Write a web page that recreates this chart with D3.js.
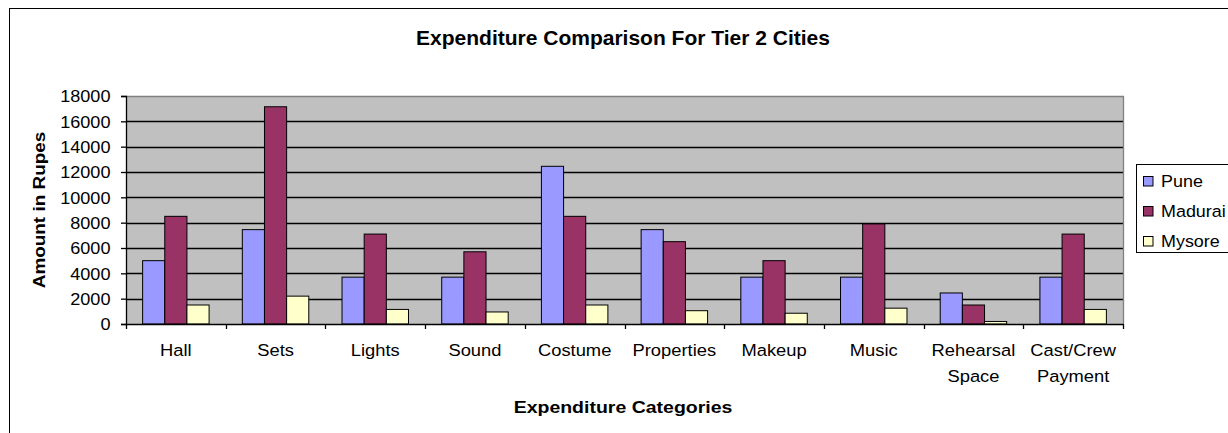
<!DOCTYPE html>
<html>
<head>
<meta charset="utf-8">
<script src="https://cdn.jsdelivr.net/npm/d3@7"></script>
<style>
  html, body { margin: 0; padding: 0; background: #fff; }
  svg { display: block; font-family: Arial, "Liberation Sans", sans-serif; }
</style>
</head>
<body>
<svg id="chart" width="1228" height="433"></svg>
<script>
const categories = ["Hall", "Sets", "Lights", "Sound", "Costume", "Properties", "Makeup", "Music", "Rehearsal Space", "Cast/Crew Payment"];
const seriesNames = ["Pune", "Madurai", "Mysore"];
const pune    = [5000, 7450, 3700, 3700, 12450, 7450, 3700, 3700, 2450, 3700];
const madurai = [8500, 17150, 7100, 5700, 8500, 6500, 5000, 7900, 1500, 7100];
const mysore  = [1500, 2200, 1150, 950, 1500, 1050, 850, 1250, 200, 1150];
const yTicks = [0, 2000, 4000, 6000, 8000, 10000, 12000, 14000, 16000, 18000];
const colors = ["#9999FF", "#993366", "#FFFFCC"];
const seriesValues = [pune, madurai, mysore];

(function () {
const svg = d3.select("#chart");

// outer chart border
svg.append("rect").attr("x", 9.5).attr("y", 8.5).attr("width", 1300).attr("height", 500)
  .attr("fill", "#fff").attr("stroke", "#000").attr("stroke-width", 1);

const pLeft = 126, pRight = 1123, pTop = 96, pBottom = 324;

const x = d3.scaleBand().domain(categories).range([pLeft, pRight]).paddingInner(0).paddingOuter(0);
const x1 = d3.scaleBand().domain(seriesNames).range([0, x.bandwidth()]).paddingInner(0).paddingOuter(0.75);
const y = d3.scaleLinear().domain([0, 18000]).range([pBottom, pTop]);

// plot area
svg.append("rect").attr("x", pLeft).attr("y", pTop).attr("width", pRight - pLeft).attr("height", pBottom - pTop)
  .attr("fill", "#C0C0C0");

// gridlines
svg.append("g").selectAll("line").data(yTicks.filter(d => d > 0 && d < 18000)).join("line")
  .attr("x1", pLeft).attr("x2", pRight)
  .attr("y1", d => Math.round(y(d)) + 0.5).attr("y2", d => Math.round(y(d)) + 0.5)
  .attr("stroke", "#000").attr("stroke-width", 1.3);

// plot border top/right
svg.append("path")
  .attr("d", `M${pLeft},${pTop + 0.5}H${pRight + 0.5}V${pBottom}`)
  .attr("fill", "none").attr("stroke", "#808080").attr("stroke-width", 1.3);

// bars
const data = [];
categories.forEach((c, i) => seriesNames.forEach((s, j) => data.push({ c, s, v: seriesValues[j][i], j })));
svg.append("g").selectAll("rect").data(data).join("rect")
  .attr("x", d => x(d.c) + x1(d.s))
  .attr("width", x1.bandwidth())
  .attr("y", d => y(d.v))
  .attr("height", d => y(0) - y(d.v))
  .attr("fill", d => colors[d.j])
  .attr("stroke", "#000").attr("stroke-width", 1);

// y axis
const yAxis = svg.append("g").attr("transform", `translate(${pLeft},0)`)
  .call(d3.axisLeft(y).tickValues(yTicks).tickSize(5).tickPadding(6).tickFormat(d3.format("d")));
yAxis.select(".domain").attr("stroke", "#000").attr("stroke-width", 1.3);
yAxis.selectAll(".tick line").attr("stroke", "#000").attr("stroke-width", 1.3);
yAxis.selectAll(".tick text")
  .attr("font-size", 16.3).attr("font-family", "Arial, 'Liberation Sans', sans-serif")
  .attr("fill", "#000")
  .attr("x", -14).attr("dy", "0.36em")
  .attr("transform", "scale(1.11,1)");

// x axis
const xAxis = svg.append("g").attr("transform", `translate(0,${pBottom})`)
  .call(d3.axisBottom(x).tickSize(0).tickFormat(""));
xAxis.select(".domain").attr("stroke", "#000").attr("stroke-width", 1.3);
xAxis.selectAll(".tick").remove();
const boundaries = categories.map(c => x(c)).concat([x(categories[categories.length - 1]) + x.bandwidth()]);
xAxis.selectAll("line.bt").data(boundaries).join("line").attr("class", "bt")
  .attr("x1", d => Math.round(d) + 0.5).attr("x2", d => Math.round(d) + 0.5)
  .attr("y1", 0).attr("y2", 5).attr("stroke", "#000").attr("stroke-width", 1.3);

// category labels
const catLabels = svg.append("g").selectAll("text").data(categories).join("text")
  .attr("transform", d => `translate(${x(d) + x.bandwidth() / 2},356) scale(1.08,1)`)
  .attr("text-anchor", "middle").attr("font-size", 17).attr("fill", "#000");
catLabels.each(function (d) {
  const words = d.split(" ");
  const t = d3.select(this);
  words.forEach((w, i) => t.append("tspan").attr("x", 0).attr("dy", i === 0 ? 0 : 26).text(w));
});

// titles
svg.append("text").attr("x", 623).attr("y", 45).attr("text-anchor", "middle")
  .attr("font-size", 21).attr("font-weight", "bold").attr("fill", "#000")
  .text("Expenditure Comparison For Tier 2 Cities");

svg.append("text").attr("transform", "translate(623,412.5) scale(1.16,1)").attr("text-anchor", "middle")
  .attr("font-size", 16.8).attr("font-weight", "bold").attr("fill", "#000")
  .text("Expenditure Categories");

svg.append("text").attr("transform", "translate(45,210) rotate(-90) scale(1.1,1)").attr("text-anchor", "middle")
  .attr("font-size", 17.2).attr("font-weight", "bold").attr("fill", "#000")
  .text("Amount in Rupes");

// legend
const lg = svg.append("g");
lg.append("rect").attr("x", 1136.5).attr("y", 164.5).attr("width", 200).attr("height", 88)
  .attr("fill", "#fff").attr("stroke", "#000").attr("stroke-width", 1);
const items = lg.selectAll("g.item").data(seriesNames).join("g").attr("class", "item")
  .attr("transform", (d, i) => `translate(0,${i * 30})`);
items.append("rect").attr("x", 1143.5).attr("y", 176.5).attr("width", 9.5).attr("height", 9.5)
  .attr("fill", (d, i) => colors[i]).attr("stroke", "#000").attr("stroke-width", 1);
items.append("text").attr("transform", "translate(1161,186.7) scale(1.1,1)")
  .attr("font-size", 16.3).attr("fill", "#000").text(d => d);
})();
</script>
</body>
</html>
